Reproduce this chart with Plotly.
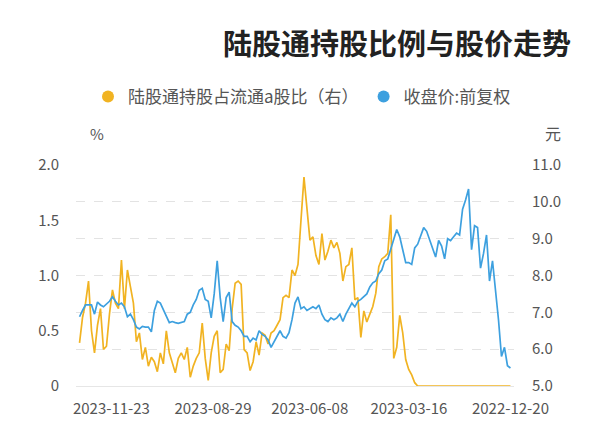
import pandas as pd
import plotly.graph_objects as go

# chronological series (2022-12-20 -> 2023-12-20), sampled ~every 2.5 days
start_date = "2022-12-20"
end_date = "2023-12-20"

close_price = [
    5.49, 5.55, 6.05, 5.80, 6.80, 7.70, 8.40, 7.85, 9.10, 8.60,
    8.20, 9.30, 9.35, 8.70, 10.35, 10.05, 9.80, 9.10, 9.15, 9.05,
    8.95, 9.00, 8.45, 8.80, 8.95, 8.50, 8.75, 9.00, 9.20, 9.30,
    9.10, 8.85, 8.75, 8.30, 8.35, 8.35, 8.70, 9.05, 9.25, 9.00,
    8.70, 8.45, 8.40, 8.15, 8.05, 7.85, 7.80, 7.69, 7.50, 7.42,
    7.35, 7.30, 7.15, 7.25, 7.10, 6.95, 6.75, 6.95, 6.85, 6.80,
    6.85, 6.75, 6.80, 6.95, 7.20, 7.10, 7.15, 7.10, 7.05, 7.15,
    7.10, 7.42, 7.25, 6.80, 6.45, 6.30, 6.35, 6.50, 6.35, 6.20,
    6.05, 6.25, 6.35, 6.40, 6.50, 6.25, 6.30, 6.20, 6.35, 6.35,
    6.50, 6.60, 6.65, 6.75, 7.55, 7.40, 6.75, 7.40, 8.40, 7.50,
    6.85, 7.30, 7.35, 7.65, 7.60, 7.35, 7.20, 7.00, 6.95, 6.75,
    6.72, 6.70, 6.72, 6.75, 6.72, 6.90, 7.10, 7.25, 7.30, 7.05,
    6.47, 6.60, 6.60, 6.62, 6.55, 6.60, 6.80, 6.95, 6.88, 7.15,
    7.25, 7.20, 7.30, 7.42, 7.30, 7.22, 7.15, 7.20, 7.28, 6.95,
    7.20, 7.20, 7.20, 7.05, 6.88,
]

holding_pct = [
    0, 0, 0, 0, 0, 0, 0, 0, 0, 0,
    0, 0, 0, 0, 0, 0, 0, 0, 0, 0,
    0, 0, 0, 0, 0, 0, 0, 0, 0, 0,
    0, 0, 0.03, 0.10, 0.15, 0.24, 0.48, 0.64, 0.35, 0.25,
    1.55, 1.20, 1.17, 1.15, 1.08, 0.84, 0.72, 0.65, 0.58, 0.68,
    0.44, 0.80, 0.78, 1.25, 1.10, 1.08, 0.95, 1.20, 1.30, 1.25,
    1.32, 1.22, 1.14, 1.38, 1.10, 1.18, 1.35, 1.32, 1.62, 1.89,
    1.50, 1.10, 1.00, 1.05, 0.80, 0.82, 0.80, 0.60, 0.55, 0.50,
    0.48, 0.38, 0.46, 0.48, 0.28, 0.40, 0.22, 0.14, 0.30, 0.33,
    0.92, 0.95, 0.93, 0.70, 0.32, 0.38, 0.15, 0.12, 0.50, 0.45,
    0.30, 0.05, 0.25, 0.57, 0.30, 0.25, 0.18, 0.08, 0.35, 0.24,
    0.30, 0.25, 0.12, 0.22, 0.30, 0.50, 0.20, 0.30, 0.13, 0.22,
    0.26, 0.18, 0.35, 0.24, 0.48, 0.40, 0.75, 0.90, 1.05, 0.70,
    1.14, 0.70, 0.75, 0.87, 0.65, 0.36, 0.33, 0.70, 0.55, 0.30,
    0.50, 0.95, 0.75, 0.62, 0.39,
]

tick_dates = ["2022-12-20", "2023-03-16", "2023-06-08", "2023-08-29", "2023-11-23"]

dates = pd.date_range(start_date, end_date, periods=len(close_price))

BLUE = "#3DA0DF"
GOLD = "#F1B322"
FONT = "Noto Sans CJK SC"

# plot area in page pixels (page has an 8px body margin)
L, R, T, B = 68, 94, 157, 68
PW, PH = 600 - L - R, 446 - T - B


def px(sx):
    return (sx - 8 - L) / PW


def py(sy):
    return (446 - B - (sy - 8)) / PH


fig = go.Figure()
fig.add_trace(go.Scatter(x=dates, y=close_price, mode="lines", yaxis="y2",
                         line=dict(color=BLUE, width=1.7), showlegend=False))
fig.add_trace(go.Scatter(x=dates, y=holding_pct, mode="lines", yaxis="y",
                         line=dict(color=GOLD, width=1.7), showlegend=False))
# legend entries (dots)
fig.add_trace(go.Scatter(x=[None], y=[None], mode="markers", name="陆股通持股占流通a股比（右）",
                         marker=dict(color=GOLD, size=9), legendrank=1))
fig.add_trace(go.Scatter(x=[None], y=[None], mode="markers", name="收盘价:前复权",
                         marker=dict(color=BLUE, size=9), legendrank=2))

fig.update_layout(
    width=600, height=446,
    margin=dict(l=L, r=R, t=T, b=B),
    paper_bgcolor="white", plot_bgcolor="white",
    font=dict(family=FONT, color="#555555", size=15),
    xaxis=dict(
        type="date",
        range=["2023-12-23", "2022-12-17"],
        tickvals=tick_dates, ticktext=tick_dates,
        showgrid=False, zeroline=False,
        showline=True, linecolor="#e6e6e6", linewidth=1,
        ticks="", ticklabelstandoff=9,
        tickfont=dict(size=15, color="#555555"),
    ),
    yaxis=dict(
        range=[0, 2.0], tickvals=[0, 0.5, 1.0, 1.5, 2.0],
        ticktext=["0", "0.5", "1.0", "1.5", "2.0"],
        showgrid=False, zeroline=False, side="left",
        ticklabelstandoff=16, tickfont=dict(size=15, color="#555555"),
    ),
    yaxis2=dict(
        range=[5, 11], tickvals=[5, 6, 7, 8, 9, 10, 11],
        ticktext=["5.0", "6.0", "7.0", "8.0", "9.0", "10.0", "11.0"],
        overlaying="y", side="right",
        showgrid=True, gridcolor="#e3e3e3", griddash="dash", gridwidth=1,
        zeroline=False, ticklabelstandoff=17,
        tickfont=dict(size=15, color="#555555"),
    ),
    legend=dict(orientation="h", x=px(88), xanchor="left",
                y=py(97), yanchor="middle",
                font=dict(size=17, color="#555555"),
                itemsizing="constant", itemwidth=30, traceorder="normal"),
    annotations=[
        dict(text="<b>陆股通持股比例与股价走势</b>", xref="paper", yref="paper",
             x=px(573), y=py(42), xanchor="right", yanchor="middle",
             showarrow=False, font=dict(size=29, color="#222222", family=FONT)),
        dict(text="%", xref="paper", yref="paper", x=px(97), y=py(133),
             xanchor="center", yanchor="middle", showarrow=False,
             font=dict(size=15, color="#555555")),
        dict(text="元", xref="paper", yref="paper", x=px(553), y=py(133),
             xanchor="center", yanchor="middle", showarrow=False,
             font=dict(size=16, color="#555555")),
    ],
)

fig.write_html("out.html")
